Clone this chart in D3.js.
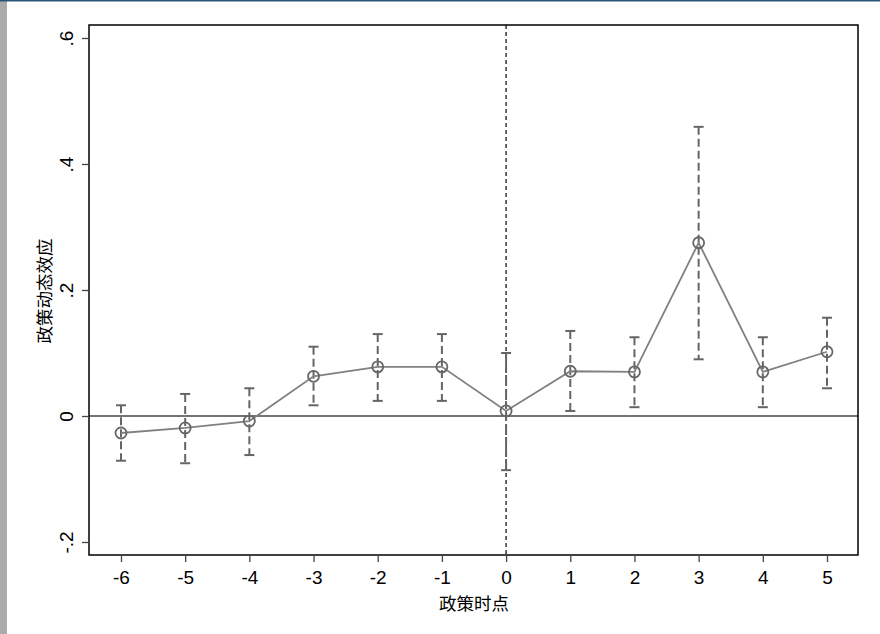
<!DOCTYPE html>
<html><head><meta charset="utf-8">
<script src="https://cdn.jsdelivr.net/npm/d3@7"></script>
<style>body{margin:0;background:#fff;} svg{display:block;}</style>
</head><body>
<script>
const periods = [-6,-5,-4,-3,-2,-1,0,1,2,3,4,5];
const estimates = [-0.027,-0.019,-0.008,0.063,0.078,0.078,0.008,0.071,0.070,0.275,0.070,0.102];
const upperCI = [0.017,0.035,0.044,0.110,0.130,0.130,0.100,0.135,0.125,0.459,0.125,0.156];
const lowerCI = [-0.071,-0.075,-0.062,0.017,0.024,0.024,-0.086,0.008,0.014,0.090,0.014,0.044];
const yTicks = [-0.2,0,0.2,0.4,0.6];
const yTickLabels = ["-.2","0",".2",".4",".6"];
const xTitle = "政策时点";
const yTitle = "政策动态效应";

const W=880,H=634;
const svg=d3.select("body").append("svg").attr("width",W).attr("height",H);
svg.append("rect").attr("x",0).attr("y",0).attr("width",W).attr("height",H).attr("fill","#fff");
svg.append("rect").attr("x",0).attr("y",0).attr("width",7).attr("height",H).attr("fill","#ababab");
svg.append("rect").attr("x",0).attr("y",0).attr("width",W).attr("height",1.5).attr("fill","#2a5478");

const L=89,T=25,R=858,B=555;
const x=d3.scaleLinear().domain([-6,5]).range([121,827]);
const y=d3.scaleLinear().domain([-0.2,0.6]).range([542,38]);
const data=periods.map((p,i)=>({p,e:estimates[i],u:upperCI[i],l:lowerCI[i]}));

const font="'Liberation Sans', Arial, sans-serif";
const cjk="'Noto Sans CJK SC', sans-serif";

// zero line
svg.append("line").attr("x1",L).attr("x2",R).attr("y1",y(0)).attr("y2",y(0))
  .attr("stroke","#444").attr("stroke-width",1.6);
// vertical dotted line at 0
svg.append("line").attr("x1",x(0)).attr("x2",x(0)).attr("y1",T).attr("y2",B)
  .attr("stroke","#333").attr("stroke-width",1.5).attr("stroke-dasharray","4,3");

// error bars
const eb=svg.append("g").attr("stroke","#656565").attr("stroke-width",2).attr("fill","none");
eb.selectAll("line.v").data(data).join("line").attr("class","v")
  .attr("x1",d=>x(d.p)).attr("x2",d=>x(d.p)).attr("y1",d=>y(d.u)).attr("y2",d=>y(d.l))
  .attr("stroke-dasharray","8,4");
eb.selectAll("line.cu").data(data).join("line").attr("class","cu")
  .attr("x1",d=>x(d.p)-5).attr("x2",d=>x(d.p)+5).attr("y1",d=>y(d.u)).attr("y2",d=>y(d.u));
eb.selectAll("line.cl").data(data).join("line").attr("class","cl")
  .attr("x1",d=>x(d.p)-5).attr("x2",d=>x(d.p)+5).attr("y1",d=>y(d.l)).attr("y2",d=>y(d.l));

// connecting line
svg.append("path").datum(data).attr("fill","none").attr("stroke","#808080").attr("stroke-width",1.8)
  .attr("d",d3.line().x(d=>x(d.p)).y(d=>y(d.e)));
svg.selectAll("circle.pt").data(data).join("circle").attr("class","pt")
  .attr("cx",d=>x(d.p)).attr("cy",d=>y(d.e)).attr("r",5.5)
  .attr("fill","none").attr("stroke","#666").attr("stroke-width",1.8);

// frame
svg.append("rect").attr("x",L).attr("y",T).attr("width",R-L).attr("height",B-T)
  .attr("fill","none").attr("stroke","#000").attr("stroke-width",1.5);

// x axis
const xa=svg.append("g").attr("transform",`translate(0,${B})`)
  .call(d3.axisBottom(x).tickValues(periods).tickFormat(d3.format("d")).tickSize(7).tickSizeOuter(0));
xa.select(".domain").remove();
xa.selectAll(".tick line").attr("stroke","#444").attr("stroke-width",1.3);
xa.selectAll(".tick text").attr("font-family",font).attr("font-size",19).attr("fill","#000").attr("dy","1.0em")
  .text(d=>d<0?"-"+Math.abs(d):d);

// y axis
const ya=svg.append("g").attr("transform",`translate(${L},0)`)
  .call(d3.axisLeft(y).tickValues(yTicks).tickFormat((d,i)=>yTickLabels[i]).tickSize(7).tickSizeOuter(0));
ya.select(".domain").remove();
ya.selectAll(".tick line").attr("stroke","#444").attr("stroke-width",1.3);
ya.selectAll(".tick text").attr("font-family",font).attr("font-size",19).attr("fill","#000")
  .attr("x",0).attr("dy",0).attr("text-anchor","middle")
  .attr("transform","translate(-16,0) rotate(-90)");

// titles
svg.append("text").attr("x",474).attr("y",610).attr("text-anchor","middle")
  .attr("font-family",cjk).attr("font-size",17.5).attr("fill","#000").text(xTitle);
svg.append("text").attr("transform",`translate(51,${291}) rotate(-90)`).attr("text-anchor","middle")
  .attr("font-family",cjk).attr("font-size",17.5).attr("fill","#000").text(yTitle);
</script>
</body></html>
